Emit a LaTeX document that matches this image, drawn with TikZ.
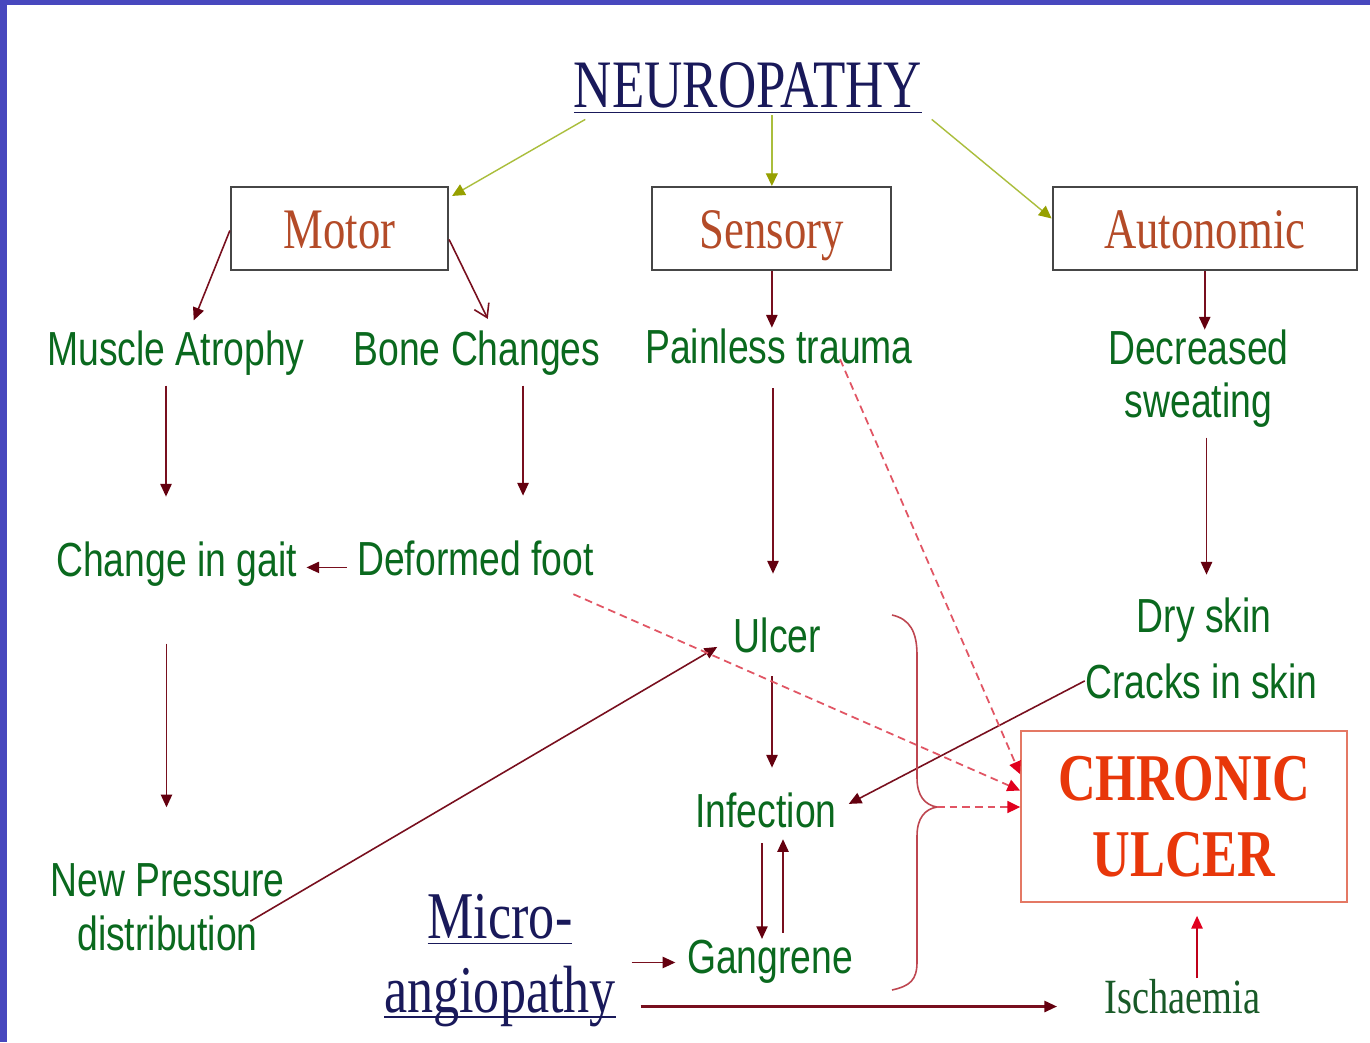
\documentclass[tikz,border=0pt]{standalone}
\usepackage{fontspec}
\setmainfont[FakeStretch=0.78]{Liberation Serif}
\setsansfont[FakeStretch=0.78]{Liberation Sans}
\usepackage{xcolor}
\usepackage{tikz}
\usetikzlibrary{arrows.meta,positioning}

\definecolor{bandblue}{RGB}{72,72,190}
\definecolor{navy}{RGB}{25,25,90}
\definecolor{leafgreen}{RGB}{10,105,30}
\definecolor{darkleaf}{RGB}{25,90,40}
\definecolor{boxbrown}{RGB}{180,75,40}
\definecolor{boxgray}{RGB}{70,70,70}
\definecolor{chronicred}{RGB}{232,55,10}
\definecolor{chronicedge}{RGB}{228,120,100}
\definecolor{arrowred}{RGB}{120,15,30}
\definecolor{tipdark}{RGB}{100,0,15}
\definecolor{limeline}{RGB}{170,190,60}
\definecolor{limetip}{RGB}{150,160,0}
\definecolor{dashred}{RGB}{225,85,100}
\definecolor{tipred}{RGB}{225,0,30}
\definecolor{bracered}{RGB}{190,70,80}

\begin{document}
\begin{tikzpicture}[
  x=0.01cm, y=-0.01cm,
  lbl/.style={font=\sffamily\fontsize{13.6}{15.1}\selectfont, text=leafgreen, inner sep=0pt, anchor=base, align=center},
  box/.style={rectangle, draw=boxgray, line width=0.6pt, minimum height=0.83cm, inner sep=0pt,
    text height=14.1pt, text depth=3pt, font=\fontsize{16.3}{18}\selectfont, text=boxbrown},
  arr/.style={draw=arrowred, line width=0.45pt, -{Triangle[length=3.6pt,width=3.2pt,color=tipdark]}},
  barb/.style={draw=arrowred, line width=0.45pt, -{Straight Barb[length=3.6pt,width=4.6pt]}},
  greenarr/.style={draw=limeline, line width=0.4pt, -{Triangle[length=3.6pt,width=3.4pt,color=limetip]}},
  dasharr/.style={draw=dashred, line width=0.5pt, dash pattern=on 2.2pt off 1.4pt, -{Triangle[length=3.6pt,width=3.4pt,color=tipred]}}
]
  \useasboundingbox (0,0) rectangle (1370,1042);
  \fill[white] (0,0) rectangle (1370,1042);
  \fill[bandblue] (0,0) rectangle (7,1042);
  \fill[bandblue] (0,0) rectangle (1370,5);

  \node[inner sep=0pt, anchor=base, font=\fontsize{19.3}{21}\selectfont, text=navy] (neuro) at (748,107) {\underline{NEUROPATHY}};

  \node[box, minimum width=2.17cm] (motor) at (339.5,228.5) {Motor};
  \node[box, minimum width=2.39cm, right=2.02cm of motor] (sensory) {Sensory};
  \node[box, minimum width=3.04cm, right=1.59cm of sensory] (autonomic) {Autonomic};
  \draw[greenarr] ([xshift=1.2mm,yshift=-0.4mm]neuro.south west) -- ([xshift=0.3mm,yshift=-1mm]motor.north east);
  \draw[greenarr] (neuro.south -| sensory.north) -- (sensory.north);
  \draw[greenarr] ([xshift=0.9mm,yshift=-0.4mm]neuro.south east) -- ([yshift=1mm]autonomic.west);

  \node[lbl] (atrophy) at (176,365) {Muscle Atrophy};
  \node[lbl] (bone) at (477,365) {Bone Changes};
  \node[lbl] (painless) at (779,363) {Painless trauma};
  \node[lbl, font=\sffamily\fontsize{13.6}{14.8}\selectfont] (decsweat) at (1198.5,417) {Decreased\\sweating};
  \draw[arr, shorten >=1mm] ([yshift=-0.2mm]motor.west) -- ([xshift=1.4mm]atrophy.north);
  \draw[barb, shorten >=1.2mm] ([yshift=-1.1mm]motor.east) -- ([xshift=1.6mm]bone.north);
  \draw[arr] (sensory.south) -- (sensory.south |- painless.north);
  \draw[arr] (autonomic.south) -- (autonomic.south |- decsweat.north);

  \node[lbl] (gait) at (176.5,576) {Change in gait};
  \node[lbl] (deformed) at (475.5,575) {Deformed foot};
  \node[lbl] (ulcer) at (777.5,652) {Ulcer};
  \node[lbl] (dryskin) at (1204,632) {Dry skin};
  \node[lbl] (cracks) at (1201.5,698) {Cracks in skin};
  \draw[arr, shorten <=1mm, shorten >=4.4mm] ([xshift=-1mm]atrophy.south) -- ([xshift=-1mm]atrophy.south |- gait.north);
  \draw[arr, shorten <=1mm, shorten >=4.4mm] ([xshift=4.6mm]bone.south) -- ([xshift=4.6mm]bone.south |- deformed.north);
  \draw[arr, shorten <=2.4mm, shorten >=4.3mm] ([xshift=-0.6mm]painless.south) -- ([xshift=-0.6mm]painless.south |- ulcer.north);
  \draw[arr, shorten <=1mm, shorten >=2.2mm] ([xshift=0.8mm]decsweat.south) -- ([xshift=0.8mm]decsweat.south |- dryskin.north);
  \draw[arr, shorten <=1mm, shorten >=0.9mm] ([yshift=-0.95mm]deformed.west) -- ([yshift=-0.95mm]deformed.west -| gait.east);

  \node[lbl] (pressure) at (167.5,950) {New Pressure\\distribution};
  \node[lbl] (infection) at (766,827) {Infection};
  \node[lbl] (gangrene) at (770,973) {Gangrene};
  \node[inner sep=0pt, anchor=base, align=center, font=\fontsize{19}{21}\selectfont, text=navy] (micro) at (500,1012) {\underline{Micro-}\\\underline{\smash{angiopathy}}};
  \node[inner sep=0pt, anchor=base, font=\fontsize{14}{16}\selectfont, text=darkleaf] (ischaemia) at (1182.5,1013) {Ischaemia};
  \node[rectangle, draw=chronicedge, line width=0.45pt, minimum width=3.26cm, minimum height=1.71cm, align=center,
    font=\bfseries\fontsize{19}{21.6}\selectfont, text=chronicred] (chronic) at (1184,816.5) {CHRONIC\\ULCER};

  \draw[arr, shorten <=5.7mm, shorten >=5.6mm] ([xshift=-1mm]gait.south) -- ([xshift=-1mm]gait.south |- pressure.north);
  \draw[arr] ([xshift=-3.5mm,yshift=3mm]pressure.south east) -- ([xshift=-1.6mm,yshift=-1.2mm]ulcer.west);
  \draw[arr, shorten <=2.3mm, shorten >=2.4mm] ([xshift=-0.55mm]ulcer.south) -- ([xshift=-0.55mm]ulcer.south |- infection.north);
  \draw[arr, shorten >=1.3mm] (cracks.west) -- (infection.east);
  \draw[arr, shorten <=1.5mm] ([xshift=-0.4mm]infection.south) -- ([xshift=-0.4mm]infection.south |- gangrene.north);
  \draw[arr, shorten <=0.6mm, shorten >=1.1mm] ([xshift=1.7mm]infection.south |- gangrene.north) -- ([xshift=1.7mm]infection.south);
  \draw[arr, shorten <=1.5mm, shorten >=1.1mm] ([yshift=-0.6mm]micro.east) -- ([yshift=-0.6mm]micro.east -| gangrene.west);
  \draw[arr, line width=0.6pt, shorten <=2.4mm, shorten >=4.7mm] ([yshift=-5mm]micro.east) -- ([yshift=-5mm]micro.east -| ischaemia.west);
  \draw[draw=tipred!85!black, line width=0.45pt, -{Triangle[length=3.6pt,width=3.2pt,color=tipred]}, shorten >=1.3mm]
    ([xshift=1.45mm]ischaemia.north) -- ([xshift=1.45mm]ischaemia.north |- chronic.south);

  % dashed links into the chronic ulcer
  \draw[dasharr] ([xshift=6.1mm,yshift=0.5mm]painless.south) -- ([yshift=-4.4mm]chronic.north west);
  \draw[dasharr] ([xshift=-2.1mm,yshift=-1.8mm]deformed.south east) -- ([yshift=2.6mm]chronic.west);

  % brace round ulcer, infection and gangrene
  \draw[bracered, line width=0.45pt] (892,615) .. controls (910,619) and (917,632) .. (917,655)
    -- (917,778) .. controls (917,796) and (925,805) .. (937,807)
    .. controls (925,809) and (917,818) .. (917,836)
    -- (917,962) .. controls (917,980) and (910,986) .. (892,990);
  \coordinate (bracetip) at (937,807);
  \draw[dasharr] (bracetip) -- (bracetip -| chronic.west);
\end{tikzpicture}
\end{document}
